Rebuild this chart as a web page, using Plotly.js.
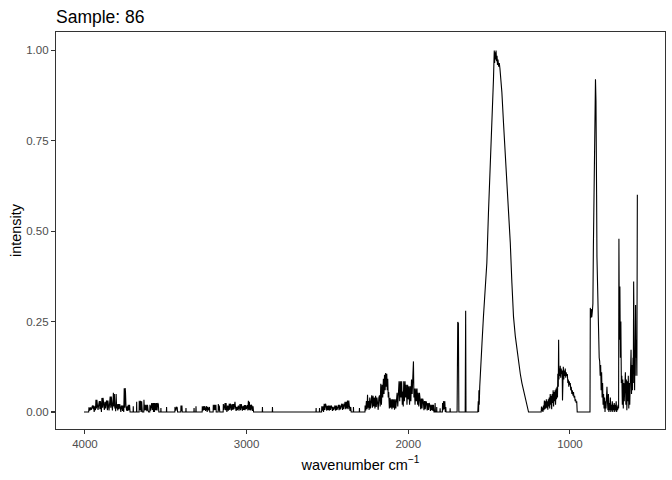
<!DOCTYPE html>
<html>
<head>
<meta charset="utf-8">
<script src="https://cdn.plot.ly/plotly-3.0.1.min.js"></script>
<style>html,body{margin:0;padding:0;background:#fff;}#chart{width:672px;height:480px;}</style>
</head>
<body>
<div id="chart"></div>
<script>
// Segment 1: 4006 - 3374 cm-1
const wnA = [4006,3977,3975,3970,3966,3961,3957,3953,3949,3946,3943,3938,3935,3932,3929,3926,3923,3919,3915,3911,3907,3904,3901,3898,3895,3891,3888,3884,3880,3876,3872,3868,3865,3861,3858,3855,3851,3847,3844,3840,3837,3834,3830,3827,3824,3821,3818,3815,3812,3810,3807,3804,3801,3797,3793,3789,3785,3782,3778,3774,3771,3767,3764,3760,3757,3754,3751,3749,3746,3742,3738,3735,3732,3728,3724,3721,3702,3701,3700,3681,3680,3679,3665,3664,3660,3656,3653,3649,3645,3636,3635,3632,3629,3625,3621,3617,3613,3609,3606,3599,3598,3594,3590,3587,3583,3579,3576,3573,3570,3566,3562,3558,3554,3550,3546,3543,3531,3530,3529,3496,3495,3494,3444,3443,3438,3433,3429,3427,3407,3406,3402,3400,3398,3376,3375,3374];
const intA = [0,0,0.013,0.004,0.013,0.006,0.013,0.018,0.008,0.018,0,0.016,0.005,0.034,0.01,0.034,0.02,0.006,0.02,0.03,0.008,0.03,0.016,0,0.039,0.012,0.039,0.028,0.006,0.028,0.01,0.028,0.032,0.005,0.032,0.02,0.004,0.02,0.043,0.012,0.043,0.025,0.004,0.025,0.053,0.015,0.05,0.01,0.016,0.002,0.05,0.01,0.022,0.004,0.022,0.008,0.022,0.016,0,0.016,0.018,0.003,0.018,0,0.066,0.012,0.066,0.053,0.016,0.004,0.016,0.003,0.02,0.005,0.02,0,0,0.016,0,0,0.028,0,0,0.031,0.006,0.031,0,0.03,0,0,0.034,0.004,0.02,0.005,0.02,0.002,0.02,0.004,0,0,0.02,0.004,0.02,0.025,0.006,0.025,0,0.025,0,0.025,0.005,0.025,0.004,0.025,0.022,0,0,0.011,0,0,0.014,0,0,0.014,0.004,0.014,0.012,0,0,0.018,0.003,0.018,0,0,0.011,0];

// Segment 2: 3326 - 2839 cm-1
const wnB = [3326,3325,3324,3314,3313,3312,3275,3274,3270,3266,3262,3258,3254,3250,3247,3244,3241,3237,3233,3230,3228,3207,3206,3202,3198,3194,3190,3188,3176,3175,3172,3169,3166,3145,3144,3140,3136,3133,3130,3127,3122,3117,3113,3110,3107,3104,3100,3097,3094,3092,3089,3085,3081,3078,3076,3072,3069,3065,3061,3057,3053,3051,3047,3044,3041,3037,3033,3030,3026,3022,3018,3014,3010,3006,3002,2998,2995,2992,2989,2986,2983,2980,2977,2973,2970,2967,2963,2960,2957,2903,2902,2901,2841,2840,2839];
const intB = [0,0.011,0,0,0.016,0,0,0.016,0.004,0.016,0.006,0.016,0.003,0.016,0.016,0,0.014,0.005,0.014,0.014,0,0,0.02,0.005,0.02,0.006,0.02,0,0,0.022,0.004,0.018,0,0,0.022,0.006,0.022,0.025,0.005,0.025,0,0.018,0.004,0.018,0.023,0.006,0.023,0.018,0.004,0.018,0.022,0.006,0.022,0.008,0.022,0.028,0.014,0.003,0.014,0.005,0.014,0.018,0.004,0.018,0.022,0.005,0.022,0.016,0.004,0.016,0.006,0.019,0.005,0.019,0.008,0.019,0.019,0.004,0.031,0.006,0.028,0.005,0.02,0.004,0.02,0.016,0.003,0.016,0,0,0.014,0,0,0.014,0];

// Segment 3: 2571 - 1643 cm-1
const wnC = [2571,2570,2569,2550,2549,2548,2536,2535,2531,2527,2524,2520,2516,2512,2508,2504,2500,2496,2493,2489,2485,2481,2477,2473,2469,2465,2461,2457,2453,2449,2445,2441,2436,2432,2428,2424,2420,2415,2411,2407,2403,2399,2395,2391,2387,2383,2379,2376,2372,2368,2364,2360,2356,2353,2340,2339,2338,2303,2302,2301,2268,2267,2263,2259,2255,2252,2249,2246,2242,2238,2234,2230,2226,2222,2218,2214,2210,2206,2202,2198,2194,2190,2186,2182,2178,2174,2170,2166,2162,2158,2154,2150,2147,2143,2140,2137,2133,2130,2127,2124,2121,2117,2113,2109,2105,2101,2097,2093,2089,2085,2081,2077,2073,2069,2065,2061,2057,2053,2049,2045,2041,2037,2034,2031,2028,2024,2020,2016,2012,2008,2004,2000,1996,1992,1988,1984,1980,1976,1972,1968,1965,1962,1958,1954,1950,1946,1942,1939,1935,1931,1927,1923,1919,1915,1911,1907,1903,1899,1895,1891,1887,1883,1879,1875,1871,1867,1863,1859,1855,1851,1847,1844,1841,1835,1834,1832,1825,1824,1823,1804,1803,1802,1789,1788,1785,1782,1778,1774,1771,1768,1766,1742,1741,1740,1698,1694,1690,1687,1648,1645,1643,1570];
const intC = [0,0.011,0,0,0.011,0,0,0.016,0.004,0.016,0,0.023,0.006,0.023,0.017,0.004,0.017,0.006,0.018,0.004,0.018,0.006,0.018,0.014,0.003,0.014,0.005,0.014,0.018,0.004,0.018,0.006,0.018,0.02,0.005,0.02,0.007,0.02,0.023,0.006,0.023,0.008,0.023,0.028,0.008,0.028,0.01,0.032,0.008,0.032,0.014,0.003,0.014,0,0,0.014,0,0,0.011,0,0,0.018,0.004,0.03,0.008,0.048,0.012,0.03,0.006,0.04,0.01,0.035,0.046,0.012,0.045,0.015,0.04,0.01,0.045,0.014,0.04,0.025,0.006,0.04,0.046,0.015,0.078,0.02,0.075,0.04,0.092,0.05,0.103,0.06,0.108,0.07,0.106,0.06,0.092,0.04,0.055,0.01,0.039,0.012,0.035,0.008,0.035,0.012,0.035,0.006,0.035,0.01,0.035,0.053,0.015,0.053,0.085,0.03,0.085,0.04,0.085,0.02,0.057,0.015,0.085,0.03,0.085,0.04,0.075,0.02,0.075,0.035,0.071,0.02,0.071,0.03,0.09,0.05,0.09,0.14,0.04,0.065,0.02,0.065,0.03,0.065,0.02,0.053,0.015,0.053,0.037,0.008,0.037,0.01,0.037,0.03,0.005,0.03,0.008,0.03,0.025,0.004,0.025,0.006,0.025,0.02,0.003,0.02,0.005,0.02,0.003,0.02,0,0,0.025,0,0,0.014,0,0,0.01,0,0,0.025,0.005,0.03,0.008,0.03,0,0.014,0,0,0.01,0,0,0.249,0.245,0,0,0.28,0,0];

// Segment 4: main band 1567 - 1178 cm-1
const wnD = [1567,1565,1563,1561,1558,1555,1550,1544,1535,1524,1514,1504,1493,1483,1476,1473,1470,1468,1466,1463,1460,1457,1454,1451,1448,1445,1441,1437,1433,1429,1421,1411,1400,1390,1380,1369,1359,1349,1338,1328,1318,1307,1297,1286,1276,1266,1256,1178];
const intD = [0.03,0,0.06,0.02,0.07,0.108,0.15,0.19,0.264,0.338,0.412,0.551,0.67,0.781,0.88,0.92,0.97,1.0,0.965,0.995,0.975,1.0,0.97,0.985,0.96,0.975,0.955,0.965,0.95,0.93,0.884,0.80,0.717,0.651,0.56,0.468,0.357,0.263,0.21,0.172,0.135,0.105,0.08,0.058,0.035,0.019,0,0];

// Segment 5: 1176 - 878 cm-1
const wnE = [1176,1173,1170,1167,1164,1161,1158,1155,1152,1149,1146,1143,1140,1137,1134,1131,1128,1125,1122,1119,1116,1113,1110,1107,1104,1101,1098,1095,1092,1089,1086,1083,1080,1077,1075,1072,1070,1068,1066,1063,1060,1057,1054,1051,1048,1046,1044,1041,1038,1035,1032,1029,1026,1023,1020,1016,1013,1010,1007,1004,1001,998,995,992,988,985,981,978,975,971,968,965,961,958,955,878];
const intE = [0.015,0.003,0.012,0,0.018,0.005,0.032,0.008,0.03,0.01,0.035,0.012,0.03,0.006,0.035,0.015,0.04,0.01,0.05,0.02,0.045,0.008,0.05,0.025,0.06,0.015,0.055,0.03,0.06,0.02,0.065,0.035,0.07,0.04,0.106,0.07,0.2,0.09,0.12,0.1,0.128,0.095,0.12,0.105,0.115,0.032,0.11,0.125,0.09,0.115,0.1,0.12,0.095,0.11,0.1,0.105,0.08,0.09,0.07,0.085,0.075,0.08,0.06,0.07,0.05,0.06,0.045,0.055,0.04,0.045,0.03,0.035,0.025,0.03,0,0];

// Segment 6: 876 - 583 cm-1
const wnF = [876,874,871,868,865,861,858,855,851,848,845,842,839,837,835,833,830,827,825,822,819,816,813,810,807,804,801,798,795,792,789,786,783,780,777,774,771,768,765,762,759,756,753,750,747,744,741,738,735,732,729,726,723,720,717,714,711,708,705,702,699,697,694,691,688,685,682,679,676,673,670,667,664,660,657,654,651,648,645,642,639,636,633,630,626,622,619,616,613,610,608,606,604,602,600,598,596,594,592,589,586,585,583];
const intF = [0,0.288,0.26,0.285,0.262,0.28,0.3,0.454,0.6,0.842,0.88,0.92,0.86,0.79,0.6,0.43,0.35,0.27,0.22,0.17,0.15,0.14,0.1,0.13,0.06,0.11,0.04,0.08,0.02,0.05,0.01,0.04,0,0.03,0.01,0.035,0.07,0.03,0.005,0.05,0,0.025,0.005,0.04,0,0.02,0.004,0.03,0,0.02,0.005,0.025,0,0.02,0.004,0.03,0,0.015,0.005,0.02,0.01,0.479,0.2,0.347,0.15,0.25,0.08,0.1,0.02,0.09,0.01,0.08,0.03,0.1,0.11,0.02,0.09,0.005,0.085,0.03,0.1,0.01,0.08,0.02,0.09,0.172,0.05,0.13,0.06,0.15,0.08,0.361,0.14,0.16,0.06,0.17,0.1,0.296,0.15,0.2,0.1,0.504,0.601];

const xTicks = [4000, 3000, 2000, 1000];
const xTickText = ["4000", "3000", "2000", "1000"];
const yTicks = [0, 0.25, 0.5, 0.75, 1.0];
const yTickText = ["0.00", "0.25", "0.50", "0.75", "1.00"];

const wavenumber = [].concat(wnA, wnB, wnC, wnD, wnE, wnF);
const intensity = [].concat(intA, intB, intC, intD, intE, intF);

const FONT = "Liberation Sans, Arial, Helvetica, sans-serif";

const trace = {
  x: wavenumber,
  y: intensity,
  type: "scatter",
  mode: "lines",
  line: {color: "#000000", width: 1.1},
  hoverinfo: "skip"
};

const axisCommon = {
  showgrid: false,
  zeroline: false,
  showline: true,
  mirror: true,
  linecolor: "#333333",
  linewidth: 1.1,
  ticks: "outside",
  ticklen: 4,
  tickwidth: 1.1,
  tickcolor: "#333333",
  tickfont: {family: FONT, size: 11.5, color: "#4D4D4D"}
};

const layout = {
  width: 672,
  height: 480,
  paper_bgcolor: "#FFFFFF",
  plot_bgcolor: "#FFFFFF",
  margin: {l: 56, r: 7, t: 32, b: 51},
  showlegend: false,
  title: {
    text: "Sample: 86",
    font: {family: FONT, size: 17.5, color: "#000000"},
    x: 0, xref: "paper", xanchor: "left",
    y: 0.964, yref: "container", yanchor: "middle"
  },
  xaxis: Object.assign({}, axisCommon, {
    range: [4179, 412],
    tickmode: "array",
    tickvals: xTicks,
    ticktext: xTickText,
    title: {text: "wavenumber cm<sup>\u22121</sup>", font: {family: FONT, size: 14.5, color: "#000000"}, standoff: 10}
  }),
  yaxis: Object.assign({}, axisCommon, {
    range: [-0.047, 1.051],
    tickmode: "array",
    tickvals: yTicks,
    ticktext: yTickText,
    title: {text: "intensity", font: {family: FONT, size: 14.5, color: "#000000"}, standoff: 1}
  })
};

Plotly.newPlot("chart", [trace], layout, {displayModeBar: false, staticPlot: true});
</script>
</body>
</html>
